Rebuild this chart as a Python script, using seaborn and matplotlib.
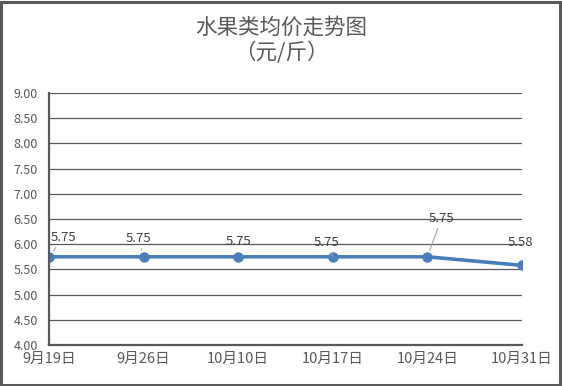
import matplotlib
matplotlib.use("Agg")
import matplotlib.pyplot as plt
import seaborn as sns
import pandas as pd
from matplotlib.patches import Rectangle

# 数据
dates = ["9月19日", "9月26日", "10月10日", "10月17日", "10月24日", "10月31日"]
prices = [5.75, 5.75, 5.75, 5.75, 5.75, 5.58]
y_ticks = [4.00, 4.50, 5.00, 5.50, 6.00, 6.50, 7.00, 7.50, 8.00, 8.50, 9.00]

# 数据标签的偏移(像素)以及是否带引线
label_offsets = [(14, 19), (-5, 18), (0, 15), (-6, 14), (14, 38), (-1, 23)]
label_leader = [True, True, False, True, True, False]

sns.set_style("white")
plt.rcParams["font.family"] = ["Noto Sans CJK SC", "DejaVu Sans"]

text_color = "#595959"
line_color = "#4a7ebb"

df = pd.DataFrame({"date": dates, "price": prices})

fig = plt.figure(figsize=(5.62, 3.86), dpi=100)
ax = fig.add_axes([0.0872, 0.1062, 0.8416, 0.6529])

sns.lineplot(data=df, x="date", y="price", ax=ax, color=line_color,
             linewidth=2.6, marker="o", markersize=7.5, markeredgewidth=0, sort=False)

ax.set_xlim(0, len(dates) - 1)
ax.set_ylim(4.0, 9.0)
ax.set_yticks(y_ticks)
ax.set_yticklabels([f"{v:.2f}" for v in y_ticks])
ax.set_xticks(range(len(dates)))
ax.set_xticklabels(dates)
ax.set_xlabel("")
ax.set_ylabel("")

ax.yaxis.grid(True, color="#595959", linewidth=0.9)
ax.set_axisbelow(True)
for side in ["top", "right"]:
    ax.spines[side].set_visible(False)
for side in ["left", "bottom"]:
    ax.spines[side].set_color("#595959")
    ax.spines[side].set_linewidth(1.6)

ax.tick_params(axis="y", length=0, labelsize=9, labelcolor=text_color, pad=8)
ax.tick_params(axis="x", length=4, width=1.4, color="#595959", direction="out",
               labelsize=10.5, labelcolor=text_color, pad=1)

# 数据标签
for i, (v, off, lead) in enumerate(zip(prices, label_offsets, label_leader)):
    props = dict(arrowstyle="-", color="#a6a6a6", lw=0.8, shrinkA=0, shrinkB=5) if lead else None
    ax.annotate(f"{v:.2f}", xy=(i, v), xytext=off, textcoords="offset pixels",
                ha="center", va="center", fontsize=9.5, color="#404040",
                arrowprops=props, annotation_clip=False)

fig.text(0.5, 0.928, "水果类均价走势图", ha="center", va="center",
         fontsize=15.5, color=text_color)
fig.text(0.5, 0.862, "（元/斤）", ha="center", va="center",
         fontsize=15.5, color=text_color)

# 外框
fig.patches.append(Rectangle((0.002, 0.003), 0.994, 0.993, transform=fig.transFigure,
                             fill=False, edgecolor="#595959", linewidth=2.2))

fig.savefig("out.png", dpi=100)
